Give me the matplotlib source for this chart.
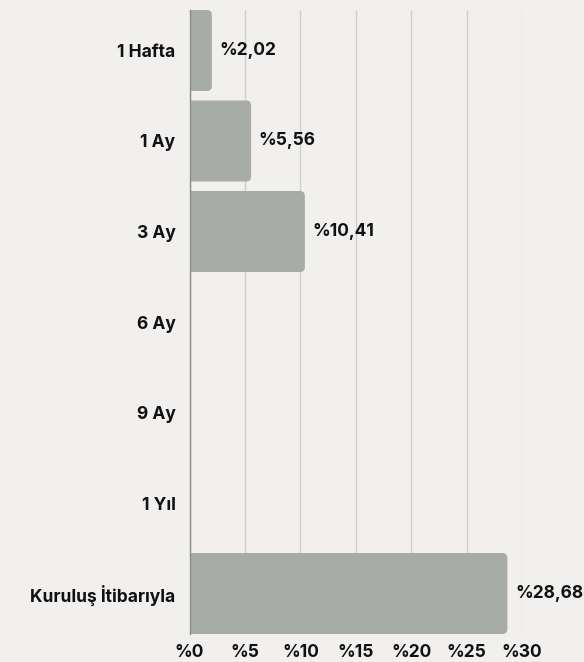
import numpy as np
import matplotlib
matplotlib.use("Agg")
import matplotlib.pyplot as plt
from matplotlib.patches import FancyBboxPatch

categories = ["1 Hafta", "1 Ay", "3 Ay", "6 Ay", "9 Ay", "1 Yıl", "Kuruluş İtibarıyla"]
values = [2.02, 5.56, 10.41, None, None, None, 28.68]
value_labels = ["%2,02", "%5,56", "%10,41", "", "", "", "%28,68"]
xticks = [0, 5, 10, 15, 20, 25, 30]
xtick_labels = ["%0", "%5", "%10", "%15", "%20", "%25", "%30"]

plt.rcParams['font.family'] = ['Inter', 'DejaVu Sans']
BG = "#f1f0ee"
BAR = "#a8aca6"
FS = 12.5

W, H = 584, 662
fig = plt.figure(figsize=(W / 100, H / 100), dpi=100, facecolor=BG)
left, right = 189.5 / W, 522 / W
top, bottom = 1 - 10 / H, 1 - 634 / H
ax = fig.add_axes([left, bottom, right - left, top - bottom], facecolor=BG)

h = 0.895
ypos = np.arange(len(categories))
ax.set_xlim(0, 30)
ax.set_ylim(len(categories) - 1 + h / 2, -h / 2)

px_x = (right - left) * W / 30.0
px_y = (top - bottom) * H / (len(categories) - 1 + h)
r_px = 5
for y, v, lab in zip(ypos, values, value_labels):
    if v is None:
        continue
    p = FancyBboxPatch((-1, y - h / 2), v + 1, h,
                       boxstyle=f"round,pad=0,rounding_size={r_px / px_x}",
                       mutation_aspect=px_x / px_y,
                       facecolor=BAR, edgecolor="none", zorder=2)
    ax.add_patch(p)
    ax.annotate(lab, (v, y), xytext=(5.5, 0), textcoords="offset points",
                ha="left", va="center", fontsize=FS, fontweight="bold",
                color="#111111", annotation_clip=False, zorder=3)

ax.set_xticks(xticks)
ax.set_xticklabels(xtick_labels, fontsize=FS, fontweight="bold", color="#111111")
ax.set_yticks(ypos)
ax.set_yticklabels(categories, fontsize=FS, fontweight="bold", color="#111111")
ax.tick_params(axis="both", length=0)
ax.tick_params(axis="x", pad=7)
ax.tick_params(axis="y", pad=10)
ax.grid(axis="x", color="#cfcfcd", linewidth=1, zorder=0)
ax.set_axisbelow(True)
for s in ["top", "right", "bottom"]:
    ax.spines[s].set_visible(False)
ax.spines["left"].set_color("#8a8a88")
ax.spines["left"].set_linewidth(1)
ax.spines["left"].set_zorder(4)

fig.savefig("out.png", dpi=100, facecolor=BG)
